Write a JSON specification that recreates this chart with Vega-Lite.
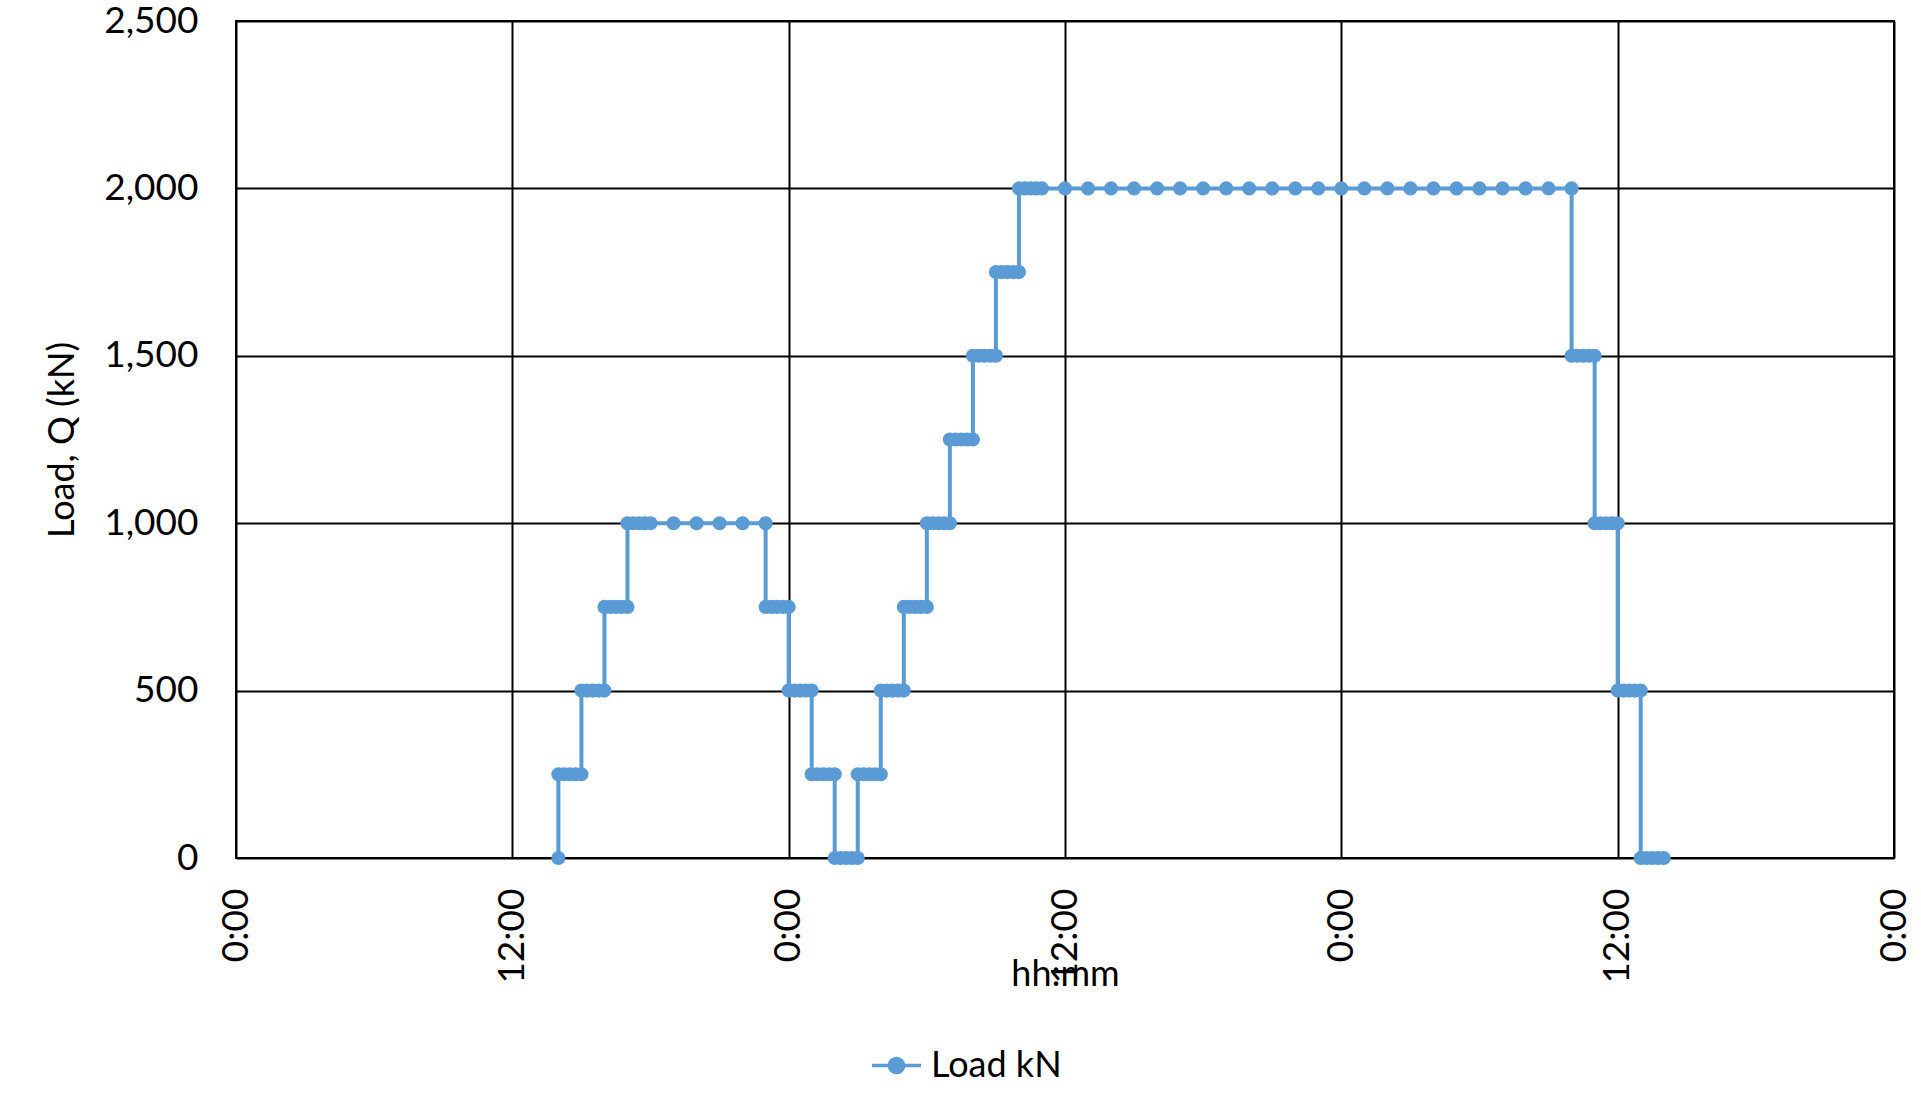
{
  "$schema": "https://vega.github.io/schema/vega-lite/v6.json",
  "width": 1658,
  "height": 837,
  "autosize": {"type": "none"},
  "padding": {"left": 236, "top": 21, "right": 27, "bottom": 254},
  "background": "white",
  "config": {
    "font": "Lato",
    "view": {"stroke": "black", "strokeWidth": 2},
    "axis": {"labelFont": "Lato", "titleFont": "Lato", "labelFontSize": 37, "titleFontSize": 36, "labelColor": "black", "titleColor": "black", "titleFontWeight": "normal", "gridColor": "black", "gridWidth": 2, "gridOpacity": 1, "ticks": false, "domain": false}
  },
  "data": {"values": [
    {"i":0,"t":14,"q":0},
    {"i":1,"t":14,"q":250},{"i":2,"t":14.25,"q":250},{"i":3,"t":14.5,"q":250},{"i":4,"t":14.75,"q":250},{"i":5,"t":15,"q":250},
    {"i":6,"t":15,"q":500},{"i":7,"t":15.25,"q":500},{"i":8,"t":15.5,"q":500},{"i":9,"t":15.75,"q":500},{"i":10,"t":16,"q":500},
    {"i":11,"t":16,"q":750},{"i":12,"t":16.25,"q":750},{"i":13,"t":16.5,"q":750},{"i":14,"t":16.75,"q":750},{"i":15,"t":17,"q":750},
    {"i":16,"t":17,"q":1000},{"i":17,"t":17.25,"q":1000},{"i":18,"t":17.5,"q":1000},{"i":19,"t":17.75,"q":1000},{"i":20,"t":18,"q":1000},
    {"i":21,"t":19,"q":1000},{"i":22,"t":20,"q":1000},{"i":23,"t":21,"q":1000},{"i":24,"t":22,"q":1000},{"i":25,"t":23,"q":1000},
    {"i":26,"t":23,"q":750},{"i":27,"t":23.25,"q":750},{"i":28,"t":23.5,"q":750},{"i":29,"t":23.75,"q":750},{"i":30,"t":24,"q":750},
    {"i":31,"t":24,"q":500},{"i":32,"t":24.25,"q":500},{"i":33,"t":24.5,"q":500},{"i":34,"t":24.75,"q":500},{"i":35,"t":25,"q":500},
    {"i":36,"t":25,"q":250},{"i":37,"t":25.25,"q":250},{"i":38,"t":25.5,"q":250},{"i":39,"t":25.75,"q":250},{"i":40,"t":26,"q":250},
    {"i":41,"t":26,"q":0},{"i":42,"t":26.25,"q":0},{"i":43,"t":26.5,"q":0},{"i":44,"t":26.75,"q":0},{"i":45,"t":27,"q":0},
    {"i":46,"t":27,"q":250},{"i":47,"t":27.25,"q":250},{"i":48,"t":27.5,"q":250},{"i":49,"t":27.75,"q":250},{"i":50,"t":28,"q":250},
    {"i":51,"t":28,"q":500},{"i":52,"t":28.25,"q":500},{"i":53,"t":28.5,"q":500},{"i":54,"t":28.75,"q":500},{"i":55,"t":29,"q":500},
    {"i":56,"t":29,"q":750},{"i":57,"t":29.25,"q":750},{"i":58,"t":29.5,"q":750},{"i":59,"t":29.75,"q":750},{"i":60,"t":30,"q":750},
    {"i":61,"t":30,"q":1000},{"i":62,"t":30.25,"q":1000},{"i":63,"t":30.5,"q":1000},{"i":64,"t":30.75,"q":1000},{"i":65,"t":31,"q":1000},
    {"i":66,"t":31,"q":1250},{"i":67,"t":31.25,"q":1250},{"i":68,"t":31.5,"q":1250},{"i":69,"t":31.75,"q":1250},{"i":70,"t":32,"q":1250},
    {"i":71,"t":32,"q":1500},{"i":72,"t":32.25,"q":1500},{"i":73,"t":32.5,"q":1500},{"i":74,"t":32.75,"q":1500},{"i":75,"t":33,"q":1500},
    {"i":76,"t":33,"q":1750},{"i":77,"t":33.25,"q":1750},{"i":78,"t":33.5,"q":1750},{"i":79,"t":33.75,"q":1750},{"i":80,"t":34,"q":1750},
    {"i":81,"t":34,"q":2000},{"i":82,"t":34.25,"q":2000},{"i":83,"t":34.5,"q":2000},{"i":84,"t":34.75,"q":2000},{"i":85,"t":35,"q":2000},
    {"i":86,"t":36,"q":2000},{"i":87,"t":37,"q":2000},{"i":88,"t":38,"q":2000},{"i":89,"t":39,"q":2000},{"i":90,"t":40,"q":2000},
    {"i":91,"t":41,"q":2000},{"i":92,"t":42,"q":2000},{"i":93,"t":43,"q":2000},{"i":94,"t":44,"q":2000},{"i":95,"t":45,"q":2000},
    {"i":96,"t":46,"q":2000},{"i":97,"t":47,"q":2000},{"i":98,"t":48,"q":2000},{"i":99,"t":49,"q":2000},{"i":100,"t":50,"q":2000},
    {"i":101,"t":51,"q":2000},{"i":102,"t":52,"q":2000},{"i":103,"t":53,"q":2000},{"i":104,"t":54,"q":2000},{"i":105,"t":55,"q":2000},
    {"i":106,"t":56,"q":2000},{"i":107,"t":57,"q":2000},{"i":108,"t":58,"q":2000},
    {"i":109,"t":58,"q":1500},{"i":110,"t":58.25,"q":1500},{"i":111,"t":58.5,"q":1500},{"i":112,"t":58.75,"q":1500},{"i":113,"t":59,"q":1500},
    {"i":114,"t":59,"q":1000},{"i":115,"t":59.25,"q":1000},{"i":116,"t":59.5,"q":1000},{"i":117,"t":59.75,"q":1000},{"i":118,"t":60,"q":1000},
    {"i":119,"t":60,"q":500},{"i":120,"t":60.25,"q":500},{"i":121,"t":60.5,"q":500},{"i":122,"t":60.75,"q":500},{"i":123,"t":61,"q":500},
    {"i":124,"t":61,"q":0},{"i":125,"t":61.25,"q":0},{"i":126,"t":61.5,"q":0},{"i":127,"t":61.75,"q":0},{"i":128,"t":62,"q":0}
  ]},
  "mark": {"type": "line", "strokeWidth": 4, "clip": false, "point": {"filled": true, "size": 200, "opacity": 1}},
  "encoding": {
    "x": {"field": "t", "type": "quantitative", "scale": {"domain": [0, 72], "nice": false, "zero": false},
      "axis": {"values": [0, 12, 24, 36, 48, 60, 72], "labelExpr": "(datum.value % 24) + ':00'", "labelAngle": 270, "labelPadding": 30, "title": "hh:mm", "titleY": 116, "titleBaseline": "middle", "gridWidth": 2}},
    "y": {"field": "q", "type": "quantitative", "scale": {"domain": [0, 2500], "nice": false},
      "axis": {"values": [0, 500, 1000, 1500, 2000, 2500], "format": ",d", "labelPadding": 38, "title": "Load, Q (kN)", "titlePadding": 22}},
    "order": {"field": "i", "type": "quantitative"},
    "color": {"datum": "Load kN", "type": "nominal", "scale": {"range": ["#5B9BD5"]},
      "legend": {"title": null, "orient": "none", "legendX": 634, "legendY": 1018, "labelFontSize": 36, "labelFont": "Lato", "labelColor": "black", "symbolType": "M-1,0L1,0M-0.29,0A0.29,0.29 0 1,0 0.29,0A0.29,0.29 0 1,0 -0.29,0Z", "symbolSize": 2400, "symbolStrokeWidth": 3.5, "symbolFillColor": "#5B9BD5", "symbolStrokeColor": "#5B9BD5", "labelOffset": 8}}
  }
}
